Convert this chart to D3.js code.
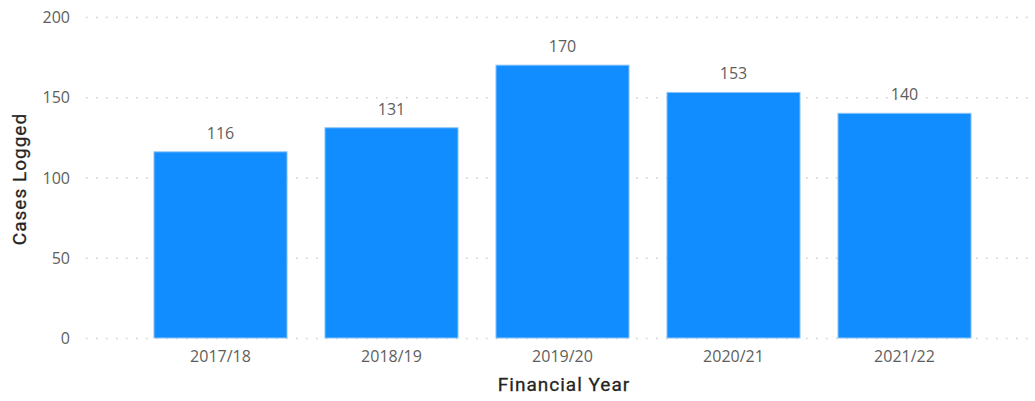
<!DOCTYPE html>
<html lang="en">
<head>
  <meta charset="UTF-8">
  <title>Cases Logged</title>
  <script src="https://cdn.jsdelivr.net/npm/d3@7"></script>
  <style>
    body { margin: 0; background: #fff; }
    .tick-label { font-family: "Open Sans", sans-serif; font-size: 16px; fill: #605E5C; }
    .axis-title { font-family: "Roboto", sans-serif; font-size: 19px; font-weight: 400; letter-spacing: 1px; fill: #252423; stroke: #252423; stroke-width: 0.3px; }
    .bar-label { font-family: "Open Sans", sans-serif; font-size: 16px; fill: #605E5C; }
  </style>
</head>
<body>
  <script>
    // Data
    var years = ["2017/18", "2018/19", "2019/20", "2020/21", "2021/22"];
    var cases = [116, 131, 170, 153, 140];
    var yTicks = [0, 50, 100, 150, 200];

    var svg = d3.select("body").append("svg")
      .attr("width", 1035)
      .attr("height", 401);

    // Scales
    var scaleX = d3.scaleBand()
      .domain(years)
      .range([135, 990])
      .paddingInner(0.222)
      .paddingOuter(0.111);

    var scaleY = d3.scaleLinear()
      .domain([0, 200])
      .range([338, 17]);

    // Dotted gridlines
    svg.append("g").selectAll("line")
      .data(yTicks)
      .enter()
      .append("line")
      .attr("x1", 86)
      .attr("x2", 1032)
      .attr("y1", d => scaleY(d) + 0.5)
      .attr("y2", d => scaleY(d) + 0.5)
      .attr("stroke", "#CFCDCB")
      .attr("stroke-width", 1.5)
      .attr("stroke-dasharray", "1.5,8.5");

    // Y tick labels
    svg.append("g").selectAll("text")
      .data(yTicks)
      .enter()
      .append("text")
      .attr("class", "tick-label")
      .attr("x", 70)
      .attr("y", d => scaleY(d) + 6)
      .attr("text-anchor", "end")
      .text(d => d);

    // Bars
    svg.append("g").selectAll("rect")
      .data(years)
      .enter()
      .append("rect")
      .attr("x", d => scaleX(d))
      .attr("y", (d, i) => scaleY(cases[i]))
      .attr("width", scaleX.bandwidth())
      .attr("height", (d, i) => scaleY(0) - scaleY(cases[i]))
      .attr("fill", "#118DFF")
      .attr("stroke", "#8CC4F7")
      .attr("stroke-width", 1);

    // Data labels
    svg.append("g").selectAll("text")
      .data(years)
      .enter()
      .append("text")
      .attr("class", "bar-label")
      .attr("x", d => scaleX(d) + scaleX.bandwidth() / 2)
      .attr("y", (d, i) => scaleY(cases[i]) - 13)
      .attr("text-anchor", "middle")
      .text((d, i) => cases[i]);

    // X tick labels
    svg.append("g").selectAll("text")
      .data(years)
      .enter()
      .append("text")
      .attr("class", "tick-label")
      .attr("x", d => scaleX(d) + scaleX.bandwidth() / 2)
      .attr("y", 362)
      .attr("text-anchor", "middle")
      .text(d => d);

    // Axis titles
    svg.append("text")
      .attr("class", "axis-title")
      .attr("x", 564)
      .attr("y", 391)
      .attr("text-anchor", "middle")
      .text("Financial Year");

    svg.append("text")
      .attr("class", "axis-title")
      .attr("transform", "translate(26,179) rotate(-90)")
      .attr("text-anchor", "middle")
      .text("Cases Logged");
  </script>
</body>
</html>
